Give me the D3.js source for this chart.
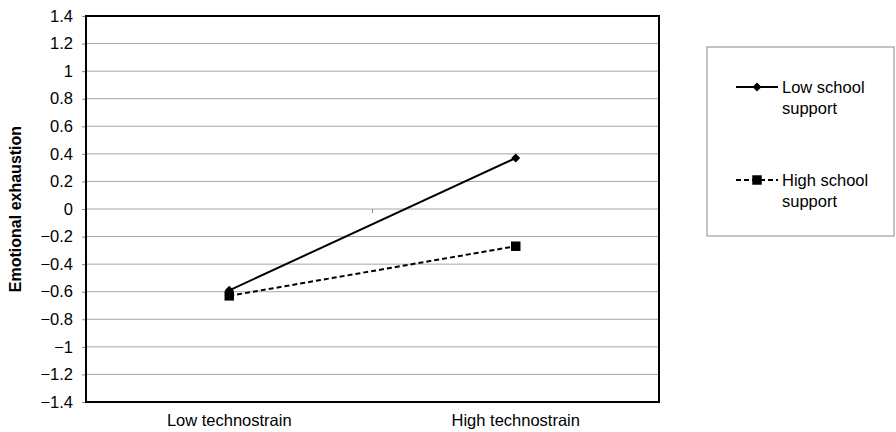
<!DOCTYPE html>
<html>
<head>
<meta charset="utf-8">
<script src="https://cdn.jsdelivr.net/npm/d3@7"></script>
<style>
  body { margin: 0; background: #fff; }
  svg { font-family: "Liberation Sans", Arial, sans-serif; }
</style>
</head>
<body>
<div id="chart"></div>
<script>
// Data
const categories = ["Low technostrain", "High technostrain"];
const lowSupport = [-0.59, 0.37];
const highSupport = [-0.63, -0.27];
const yTicks = [1.4, 1.2, 1, 0.8, 0.6, 0.4, 0.2, 0, -0.2, -0.4, -0.6, -0.8, -1, -1.2, -1.4];
const seriesNames = [["Low school", "support"], ["High school", "support"]];

const W = 896, H = 432;
const margin = { top: 16, right: 237, bottom: 30, left: 86 };
const width = W - margin.left - margin.right;
const height = H - margin.top - margin.bottom;
const fontSize = "16.5px";

const svg = d3.select("#chart").append("svg")
    .attr("width", W)
    .attr("height", H);

const g = svg.append("g")
    .attr("transform", `translate(${margin.left},${margin.top})`);

const x = d3.scaleBand().domain(categories).range([0, width]);
const y = d3.scaleLinear().domain([-1.4, 1.4]).range([height, 0]);

// Uses a real minus sign like the original
const fmt = d => (d < 0 ? "\u2212" : "") + Math.abs(d);

// Gridlines
g.append("g")
    .selectAll("line")
    .data(yTicks)
    .join("line")
    .attr("x1", 0)
    .attr("x2", width)
    .attr("y1", d => y(d))
    .attr("y2", d => y(d))
    .style("stroke", "#a6a6a6")
    .style("stroke-width", 1);

// Y axis
const yAxis = g.append("g")
    .call(d3.axisLeft(y).tickValues(yTicks).tickSize(4).tickPadding(9).tickFormat(fmt));
yAxis.select(".domain").remove();
yAxis.selectAll("line").style("stroke", "#888");
yAxis.selectAll("text")
    .style("font-size", fontSize)
    .style("fill", "#000");

// small tick between categories on the zero line
g.append("line")
    .attr("x1", width / 2)
    .attr("x2", width / 2)
    .attr("y1", y(0))
    .attr("y2", y(0) + 4)
    .style("stroke", "#888");

// Plot border
g.append("rect")
    .attr("x", 0)
    .attr("y", 0)
    .attr("width", width)
    .attr("height", height)
    .style("fill", "none")
    .style("stroke", "#000")
    .style("stroke-width", 2);

// X labels
g.append("g")
    .selectAll("text")
    .data(categories)
    .join("text")
    .attr("x", d => x(d) + x.bandwidth() / 2)
    .attr("y", height + 24)
    .attr("text-anchor", "middle")
    .style("font-size", fontSize)
    .text(d => d);

// Y title
svg.append("text")
    .attr("transform", `translate(21, ${margin.top + height / 2}) rotate(-90)`)
    .attr("text-anchor", "middle")
    .style("font-size", "16px")
    .style("font-weight", "bold")
    .text("Emotional exhaustion");

// Lines
const cx = i => x(categories[i]) + x.bandwidth() / 2;
const line = d3.line().x((d, i) => cx(i)).y(d => y(d));

g.append("path")
    .datum(lowSupport)
    .attr("d", line)
    .style("fill", "none")
    .style("stroke", "#000")
    .style("stroke-width", 2);

g.append("path")
    .datum(highSupport)
    .attr("d", line)
    .style("fill", "none")
    .style("stroke", "#000")
    .style("stroke-width", 2)
    .style("stroke-dasharray", "5,3");

// diamond = square turned 45 degrees
const diamond = d3.symbol().type(d3.symbolSquare).size(40);
const square = d3.symbol().type(d3.symbolSquare).size(90);

g.selectAll(".mk-low")
    .data(lowSupport)
    .join("path")
    .attr("transform", (d, i) => `translate(${cx(i)},${y(d)}) rotate(45)`)
    .attr("d", diamond)
    .style("fill", "#000");

g.selectAll(".mk-high")
    .data(highSupport)
    .join("path")
    .attr("transform", (d, i) => `translate(${cx(i)},${y(d)})`)
    .attr("d", square)
    .style("fill", "#000");

// Legend
const legend = svg.append("g").attr("transform", "translate(707,47)");
legend.append("rect")
    .attr("width", 187)
    .attr("height", 189)
    .style("fill", "#fff")
    .style("stroke", "#888")
    .style("stroke-width", 1);

const items = [
    { y: 40, dash: null, sym: diamond, rot: 45, names: seriesNames[0] },
    { y: 133, dash: "5,3", sym: square, rot: 0, names: seriesNames[1] }
];

items.forEach(it => {
    legend.append("line")
        .attr("x1", 29)
        .attr("x2", 71)
        .attr("y1", it.y)
        .attr("y2", it.y)
        .style("stroke", "#000")
        .style("stroke-width", 2)
        .style("stroke-dasharray", it.dash);
    legend.append("path")
        .attr("transform", `translate(50,${it.y}) rotate(${it.rot})`)
        .attr("d", it.sym)
        .style("fill", "#000");
    legend.append("text")
        .attr("x", 75)
        .attr("y", it.y + 6)
        .style("font-size", fontSize)
        .text(it.names[0]);
    legend.append("text")
        .attr("x", 75)
        .attr("y", it.y + 27)
        .style("font-size", fontSize)
        .text(it.names[1]);
});
</script>
</body>
</html>
